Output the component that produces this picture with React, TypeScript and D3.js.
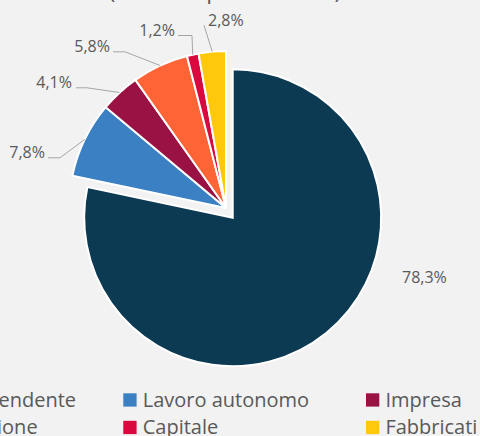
import React from 'react';
import * as d3 from 'd3';

// ---- data ----
const categories = ['Lavoro dipendente', 'Lavoro autonomo', 'Impresa', 'Partecipazione', 'Capitale', 'Fabbricati'];
const values = [78.3, 7.8, 4.1, 5.8, 1.2, 2.8];
const colors = ['#0c3a52', '#3a80c3', '#9a1243', '#ff6437', '#d9083f', '#ffc80b'];
const title = '(valori in percentuale)';

// ---- layout ----
const W = 480;
const H = 436;
const mainC: [number, number] = [232.7, 217.7];
const mainR = 148.5;
const grpC: [number, number] = [226, 208];
const grpR = 157;
const labelLayout = [
  { x: 402, y: 283, anchor: 'start', lineStart: null, elbow: null },
  { x: 45, y: 158.3, anchor: 'end', lineStart: 48, elbow: 60 },
  { x: 72, y: 88.3, anchor: 'end', lineStart: 76, elbow: 87 },
  { x: 110, y: 52.3, anchor: 'end', lineStart: 113, elbow: 125 },
  { x: 175, y: 36, anchor: 'end', lineStart: 178, elbow: 192 },
  { x: 208, y: 25.7, anchor: 'start', lineStart: 204, elbow: null },
];
const legendCols = [-119.4, 123.3, 366];
const legendRows = [393.3, 420.8];
const sq = 13.3;
const font = '"Open Sans", sans-serif';

export default function App() {
  const pie = d3.pie<number>().sort(null).startAngle(0).endAngle(2 * Math.PI);
  const arcs = pie(values);
  const arcMain = d3.arc<d3.PieArcDatum<number>>().innerRadius(0).outerRadius(mainR);
  const arcGrp = d3.arc<d3.PieArcDatum<number>>().innerRadius(0).outerRadius(grpR);
  const arcEdge = d3.arc<d3.PieArcDatum<number>>().innerRadius(grpR).outerRadius(grpR);
  const fmt = (v: number) => v.toFixed(1).replace('.', ',') + '%';

  return (
    <svg width={W} height={H} style={{ position: 'absolute', left: 0, top: 0 }} fontFamily={font}>
      <rect x={0} y={0} width={W} height={H} fill="#f2f2f2" />
      <text x={225} y={-2} textAnchor="middle" fontSize={23} fill="#595959">{title}</text>
      {arcs.map((a, i) => {
        const c = i === 0 ? mainC : grpC;
        const gen = i === 0 ? arcMain : arcGrp;
        return (
          <path key={'s' + i} d={gen(a) || ''} transform={`translate(${c[0]},${c[1]})`}
            fill={colors[i]} stroke="#ffffff" strokeWidth={2} strokeLinejoin="miter" />
        );
      })}
      {arcs.map((a, i) => {
        const L = labelLayout[i];
        let line: React.ReactNode = null;
        if (i > 0 && L.lineStart !== null) {
          const p = arcEdge.centroid(a);
          const ax = p[0] + grpC[0];
          const ay = p[1] + grpC[1];
          const ly = L.y - 0.5;
          const pts: [number, number][] = [[L.lineStart, ly]];
          if (L.elbow !== null) pts.push([L.elbow, ly]);
          pts.push([ax, ay]);
          line = <path d={d3.line()(pts) || ''} fill="none" stroke="#a6a6a6" strokeWidth={1} />;
        }
        return (
          <g key={'l' + i}>
            {line}
            <text x={L.x} y={L.y} textAnchor={L.anchor as any} fontSize={16} fill="#595959">{fmt(values[i])}</text>
          </g>
        );
      })}
      {categories.map((c, i) => {
        const col = i % 3;
        const row = Math.floor(i / 3);
        const x = legendCols[col];
        const y = legendRows[row];
        return (
          <g key={'g' + i}>
            <rect x={x} y={y} width={sq} height={sq} fill={colors[i]} />
            <text x={x + 19.4} y={y + 13.3} fontSize={20} fill="#595959">{c}</text>
          </g>
        );
      })}
    </svg>
  );
}
